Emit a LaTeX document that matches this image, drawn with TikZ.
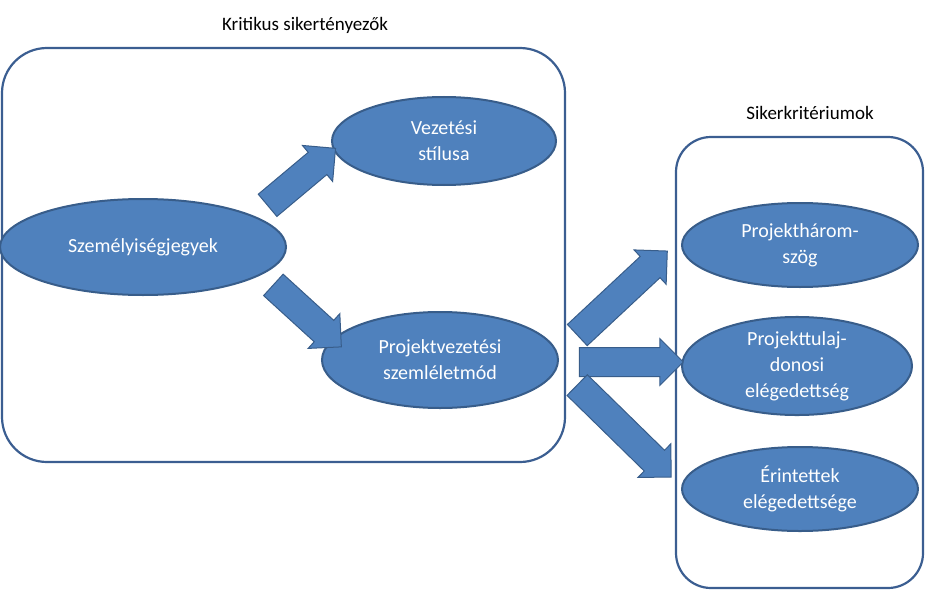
\documentclass[tikz,border=0pt]{standalone}
\usepackage{fontspec}
\setmainfont{Carlito}
\usetikzlibrary{positioning, shapes, calc}
\definecolor{ovalfill}{HTML}{4F81BD}
\definecolor{ovalline}{HTML}{385D8A}
\definecolor{boxline}{HTML}{3B5E91}

\begin{document}
\begin{tikzpicture}[x=1pt, y=-1pt,
		oval/.style={ellipse, draw=ovalline, line width=2pt, fill=ovalfill, text=white, align=center, font=\fontsize{20}{26}\selectfont, inner sep=0pt},
		group/.style={draw=boxline, line width=2.2pt, rounded corners=45pt},
		blockarrow/.style={single arrow, draw=ovalline, line width=1pt, fill=ovalfill, minimum width=46pt, single arrow head extend=9pt, single arrow head indent=0pt, inner xsep=0pt, inner ysep=14pt, anchor=center},
		caption/.style={font=\fontsize{19}{23}\selectfont}]
		\useasboundingbox (0,0) rectangle (925,591);
		\draw[group] (2,48) rectangle (565,462);
		\draw[group, rounded corners=35pt] (676,137) rectangle (923,588);
		\node (kritikus)[caption] at (305,25) {Kritikus sikertényezők};
		\node (siker)[caption] at (810,113) {Sikerkritériumok};
		
		\node (szemely)[oval, minimum width=286pt, minimum height=96pt] at (143,247) {Személyiségjegyek};
		\node (vezetesi)[oval, minimum width=224pt, minimum height=88pt] at (444,141) {Vezetési\\stílusa};
		\node (projvez)[oval, minimum width=236pt, minimum height=96pt] at (440,360) {Projektvezetési\\szemléletmód};
		\node (harom)[oval, minimum width=236pt, minimum height=84pt] at (800,245) {Projekthárom-\\szög};
		\node (tulaj)[oval, minimum width=230pt, minimum height=92pt] at (797,366) {Projekttulaj-\\donosi\\elégedettség};
		\node (erint)[oval, minimum width=236pt, minimum height=84pt] at (800,489) {Érintettek\\elégedettsége};
		
		\coordinate (a1s) at (262,210);
		\coordinate (a1e) at (330,153);
		\coordinate (a2s) at (268,280);
		\coordinate (a2e) at (336,342);
		\coordinate (a3s) at (572,340);
		\coordinate (a3e) at (662,256);
		\coordinate (a4s) at (572,362);
		\coordinate (a4e) at (676,362);
		\coordinate (a5s) at (572,380);
		\coordinate (a5e) at (666,472);
		\foreach \s/\e in {a1s/a1e, a2s/a2e, a3s/a3e, a4s/a4e, a5s/a5e}{
			\path let \p1 = ($(\e)-(\s)$), \n1 = {atan2(\y1,\x1)}, \n2 = {veclen(\x1,\y1)} in
				node[blockarrow, rotate=\n1, minimum height=\n2] at ($(\s)!0.5!(\e)$) {};
		}
	\end{tikzpicture}
\end{document}
